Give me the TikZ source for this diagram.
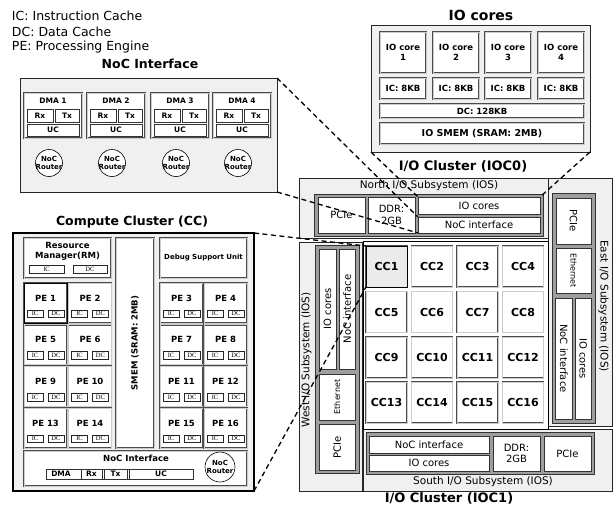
\documentclass[tikz,border=0pt]{standalone}
\usepackage{fontspec}
\setmainfont{DejaVu Sans}
\newfontfamily\serifsmall{Liberation Serif}
\newcommand{\BX}[7]{\node[#1, minimum width={(#5)-(#3)}, minimum height={(#6)-(#4)}, align=center] (#2) at ({((#3)+(#5))/2},{((#4)+(#6))/2}) {#7};}
\tikzset{
 every node/.style={inner sep=0pt, outer sep=0pt},
 panel/.style={draw=black!85, fill=black!6, line width=0.7pt},
 frame/.style={draw=black!80, fill=black!38, line width=0.6pt},
 wbox/.style={draw=black!80, fill=white, line width=0.6pt},
 dbox/.style={draw=black!70, double=black!20, double distance=0.7pt, line width=0.45pt, fill=white},
 icdc/.style={draw=black!85, fill=white, line width=0.5pt, font=\serifsmall\fontsize{6.5}{6.5}\selectfont},
 zoomline/.style={draw=black, line width=1.3pt, dash pattern=on 5pt off 3.5pt},
 lgd/.style={font=\fontsize{12.5}{14}\selectfont},
 ttl/.style={font=\fontsize{12.5}{14}\selectfont\bfseries},
 reg/.style={font=\fontsize{10}{11.5}\selectfont},
 iosl/.style={font=\fontsize{10.5}{12}\selectfont},
 regs/.style={font=\fontsize{8}{9}\selectfont},
 b11/.style={font=\fontsize{11}{13}\selectfont\bfseries},
 b8/.style={font=\fontsize{8.5}{10}\selectfont\bfseries},
 b75/.style={font=\fontsize{7.5}{9}\selectfont\bfseries},
 b7/.style={font=\fontsize{7.5}{8.5}\selectfont\bfseries},
 b65/.style={font=\fontsize{7}{8}\selectfont\bfseries},
}
\begin{document}
\begin{tikzpicture}[x=1pt,y=-1pt]
\useasboundingbox (0,0) rectangle (614,509);
% legend
\node[lgd, anchor=west] (leg1) at (12,16) {IC: Instruction Cache};
\node[lgd, anchor=west] (leg2) at (12,32) {DC: Data Cache};
\node[lgd, anchor=west] (leg3) at (12,47) {PE: Processing Engine};
% ---------------- NoC interface detail
\node[ttl] (noct) at (150,64) {NoC Interface};
\BX{panel}{nocp}{20}{78}{277}{192}{}
\foreach \i/\x in {1/24,2/87,3/151,4/213}{
  \BX{dbox}{dma\i}{\x}{93}{\x+58}{138}{}
  \node[b7] (dmat\i) at (\x+29,100.5) {DMA \i};
  \BX{wbox, line width=0.9pt, b7}{rx\i}{\x+3}{109}{\x+29}{122}{Rx}
  \BX{wbox, line width=0.9pt, b7}{tx\i}{\x+31}{109}{\x+55}{122}{Tx}
  \BX{wbox, line width=0.9pt, b7}{uc\i}{\x+3}{124}{\x+55}{136}{UC}
  \node[circle, draw=black, fill=white, line width=0.6pt, minimum size=27pt] (rt\i) at (\x+25,163) {};
  \node[b65, align=center] (rtt\i) at (rt\i) {NoC\\Router};
}
% ---------------- IO cores detail
\node[font=\fontsize{14}{16}\selectfont\bfseries] (iot) at (481,15) {IO cores};
\BX{panel}{iop}{371}{25}{590}{152}{}
\foreach \i/\x in {1/380,2/433,3/485,4/538}{
  \BX{dbox, b8}{core\i}{\x}{32}{\x+46}{73}{IO core\\\i}
  \BX{dbox, b8}{ic\i}{\x}{78}{\x+46}{99}{IC: 8KB}
}
\BX{dbox, b8}{dc}{380}{104}{584}{118}{DC: 128KB}
\BX{dbox, font=\fontsize{9.5}{11}\selectfont\bfseries}{smem}{380}{123}{584}{144}{IO SMEM (SRAM: 2MB)}
% ---------------- I/O clusters
\node[font=\fontsize{13}{15}\selectfont\bfseries] (ioc0) at (463,166) {I/O Cluster (IOC0)};
\node[font=\fontsize{13}{15}\selectfont\bfseries] (ioc1) at (449,498) {I/O Cluster (IOC1)};
\BX{panel}{north}{299}{178}{548}{238}{}
\BX{panel}{east}{548}{178}{612}{426}{}
\BX{panel}{south}{363}{429}{612}{491}{}
\BX{panel}{west}{299}{242}{362}{491}{}
\BX{wbox, draw=black, line width=0.7pt}{center}{363}{241}{548}{429}{}
\node[iosl] (northt) at (429,186) {North I/O Subsystem (IOS)};
\node[iosl, rotate=-90] (eastt) at (603.5,306) {East I/O Subsystem (IOS)};
\node[iosl] (southt) at (483,482) {South I/O Subsystem (IOS)};
\node[iosl, rotate=90] (westt) at (306.5,360) {West I/O Subsystem (IOS)};
% north
\BX{frame}{nf}{314}{194}{543}{236}{}
\BX{wbox, reg}{nPCI}{318}{197}{365}{233}{PCIe}
\BX{wbox, reg}{nDDR}{368}{197}{415}{233}{DDR:\\2GB}
\BX{wbox, reg}{nIO}{418}{197}{540}{214}{IO cores}
\BX{wbox, reg}{nNoC}{418}{217}{540}{233}{NoC interface}
% east
\BX{frame}{ef}{552}{193}{595}{423}{}
\BX{wbox}{ePCI}{556}{198}{591}{244}{}
\node[reg, rotate=-90] (ePCIt) at (ePCI) {PCIe};
\BX{wbox}{eEth}{556}{248}{591}{293}{}
\node[regs, rotate=-90] (eEtht) at (eEth) {Ethernet};
\BX{wbox}{eNoC}{555.5}{298}{572}{419}{}
\node[reg, rotate=-90] (eNoCt) at (eNoC) {NoC interface};
\BX{wbox}{eIO}{575}{298}{591.5}{419}{}
\node[reg, rotate=-90] (eIOt) at (eIO) {IO cores};
% west
\BX{frame}{wf}{315}{245}{359}{473}{}
\BX{wbox}{wIO}{319}{249}{336}{369}{}
\node[reg, rotate=90] (wIOt) at (wIO) {IO cores};
\BX{wbox}{wNoC}{339}{249}{355.5}{369}{}
\node[reg, rotate=90] (wNoCt) at (wNoC) {NoC interface};
\BX{wbox}{wEth}{319}{374}{355.5}{420}{}
\node[regs, rotate=90] (wEtht) at (wEth) {Ethernet};
\BX{wbox}{wPCI}{319}{424}{355.5}{470}{}
\node[reg, rotate=90] (wPCIt) at (wPCI) {PCIe};
% south
\BX{frame}{sf}{366}{432}{594}{474}{}
\BX{wbox, reg}{sNoC}{369}{436}{489}{453}{NoC interface}
\BX{wbox, reg}{sIO}{369}{455}{489}{471}{IO cores}
\BX{wbox, reg}{sDDR}{493}{436}{540}{471}{DDR:\\2GB}
\BX{wbox, reg}{sPCI}{544}{436}{591}{471}{PCIe}
% compute cluster grid
\foreach \r/\y in {0/246,1/291.5,2/337,3/382}{
  \foreach \c/\x in {1/366,2/411.5,3/457,4/502.5}{
    \pgfmathtruncatemacro\n{4*\r+\c}
    \BX{dbox, b11}{cc\n}{\x}{\y}{\x+41}{\y+41}{CC\n}
  }
}
\BX{draw=black, fill=black!8, line width=0.9pt, b11}{ccone}{366}{246}{407}{287}{CC1}
% ---------------- Compute cluster detail
\node[ttl] (cct) at (132,222) {Compute Cluster (CC)};
\BX{draw=black, fill=black!6, line width=1.8pt}{ccp}{13}{233}{254}{491}{}
\BX{dbox}{rm}{24}{238}{111}{278}{}
\node[b8, align=center] (rmt) at (67.5,251.5) {Resource\\Manager(RM)};
\BX{icdc}{rmic}{29}{265}{64}{273}{IC}
\BX{icdc}{rmdc}{73}{265}{107}{273}{DC}
\BX{dbox}{ccsmem}{116}{238}{154}{448}{}
\node[b8, rotate=90] (ccsmemt) at (ccsmem) {SMEM (SRAM: 2MB)};
\BX{dbox, b65}{dsu}{160}{238}{247}{278}{Debug Support Unit}
\foreach \r/\y in {0/283,1/324.7,2/366.3,3/408}{
  \foreach \c/\x in {1/24,2/68.5,3/160,4/204}{
    \pgfmathtruncatemacro\n{4*\r+\c}
    \BX{dbox}{pe\n}{\x}{\y}{\x+43}{\y+40}{}
    \node[b8] (pet\n) at (\x+21.5,\y+15) {PE \n};
    \BX{icdc}{peic\n}{\x+3}{\y+27}{\x+19}{\y+34.5}{IC}
    \BX{icdc}{pedc\n}{\x+24}{\y+27}{\x+40}{\y+34.5}{DC}
  }
}
\draw[black, line width=0.9pt] (pe1.north west) rectangle (pe1.south east);
\BX{dbox}{ccnoc}{24}{451}{247}{486}{}
\node[b8] (ccnoct) at (136,458) {NoC Interface};
\BX{wbox, line width=0.8pt}{ccdma}{46}{469}{193}{479}{}
\node[b75] (ccdmat) at (61,474) {DMA};
\BX{wbox, line width=0.8pt, b75}{ccrx}{81}{469}{102}{479}{Rx}
\BX{wbox, line width=0.8pt, b75}{cctx}{104}{469}{127}{479}{Tx}
\BX{wbox, line width=0.8pt, b75}{ccuc}{129}{469}{193}{479}{UC}
\node[circle, draw=black, fill=white, line width=0.6pt, minimum size=30pt] (ccrt) at (220,467) {};
\node[b65, align=center] (ccrtt) at (ccrt) {NoC\\Router};
% ---------------- zoom lines
\draw[zoomline] (nocp.north east) -- (nNoC.north west);
\draw[zoomline] (nocp.south east) -- (nNoC.south west);
\draw[zoomline] (iop.south west) -- (nIO.north west);
\draw[zoomline] (iop.south east) -- (nIO.north east);
\draw[zoomline] (ccp.north east) -- (ccone.north west);
\draw[zoomline] (ccp.south east) -- (ccone.south west);
\end{tikzpicture}
\end{document}
